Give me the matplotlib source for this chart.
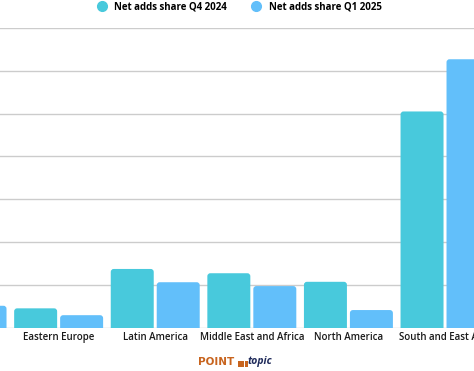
import matplotlib
matplotlib.use("Agg")
import matplotlib.pyplot as plt
from matplotlib.lines import Line2D
from matplotlib.patches import Rectangle, FancyBboxPatch
import numpy as np

# regions, partially visible at the edges in the source view
regions = ["Asia Pacific", "Eastern Europe", "Latin America",
           "Middle East and Africa", "North America", "South and East Asia"]
# net adds share, % (first region's Q4 bar lies outside the view)
share_q4_2024 = [np.nan, 4.5, 13.7, 12.7, 10.7, 50.5]
share_q1_2025 = [5.1, 2.9, 10.6, 9.7, 4.1, 62.7]
series_names = ["Net adds share Q4 2024", "Net adds share Q1 2025"]

c_q4 = "#48C9DC"
c_q1 = "#62BFFA"

plt.rcParams['font.family'] = ['Open Sans', 'DejaVu Sans']

fig = plt.figure(figsize=(4.74, 3.71), dpi=100)
ax = fig.add_axes([0, 0.117, 1, 0.8075])

x = np.arange(len(regions))
w = 0.445
off = 0.238
bars = []
bars += list(ax.bar(x - off, share_q4_2024, w, color=c_q4, zorder=3))
bars += list(ax.bar(x + off, share_q1_2025, w, color=c_q1, zorder=3))

ax.set_xticks(x)
ax.set_xticklabels(regions, fontsize=7.0, fontweight="semibold", color="#1a1a1a")
ax.set_yticks(np.arange(0, 71, 10))
# limits after ticks, set_xticks would widen the view otherwise
ax.set_xlim(0.393, 5.30)
ax.set_ylim(0, 70)
ax.yaxis.grid(True, color="#cccccc", linewidth=1)
ax.set_axisbelow(True)
for s in ax.spines.values():
    s.set_visible(False)
ax.tick_params(axis="y", left=False, labelleft=False)
ax.tick_params(axis="x", length=0, pad=3)

# swap plain bars for ones with rounded tops (bottom part hidden under the axis edge)
fig.canvas.draw()
px_x = ax.transData.transform([(1, 0)])[0][0] - ax.transData.transform([(0, 0)])[0][0]
px_y = ax.transData.transform([(0, 1)])[0][1] - ax.transData.transform([(0, 0)])[0][1]
sink = 5 / px_y
for b in bars:
    h = b.get_height()
    if not np.isfinite(h):
        continue
    r = FancyBboxPatch((b.get_x(), -sink), b.get_width(), h + sink,
                       boxstyle="round,pad=0,rounding_size=%f" % (3 / px_x),
                       mutation_aspect=px_x / px_y,
                       facecolor=b.get_facecolor(), lw=0, zorder=3)
    b.set_visible(False)
    ax.add_patch(r)

handles = [Line2D([], [], marker="o", linestyle="", markersize=7, color=c)
           for c in (c_q4, c_q1)]
fig.legend(handles, series_names, loc="upper center", bbox_to_anchor=(0.5, 1.02),
           ncol=2, frameon=False, handletextpad=0.3, columnspacing=2.0,
           prop={"size": 7.0, "weight": "bold"})

# Point Topic logo
fig.text(0.418, 0.011, "POINT", color="#C8641E", fontsize=7.5, fontweight="bold",
         family="DejaVu Sans", va="bottom")
W, H = 474.0, 371.0
for i in range(3):
    for j in range(2):
        fig.patches.append(Rectangle(((238 + i * 3.4) / W, (4 + j * 3.5) / H), 2.8 / W, 2.8 / H,
                                     transform=fig.transFigure, color="#C8641E", lw=0))
fig.text(0.523, 0.011, "topic", color="#1E2A5A", fontsize=7.5, fontweight="bold",
         style="italic", va="bottom")

fig.savefig("out.png", dpi=100, facecolor="white")
